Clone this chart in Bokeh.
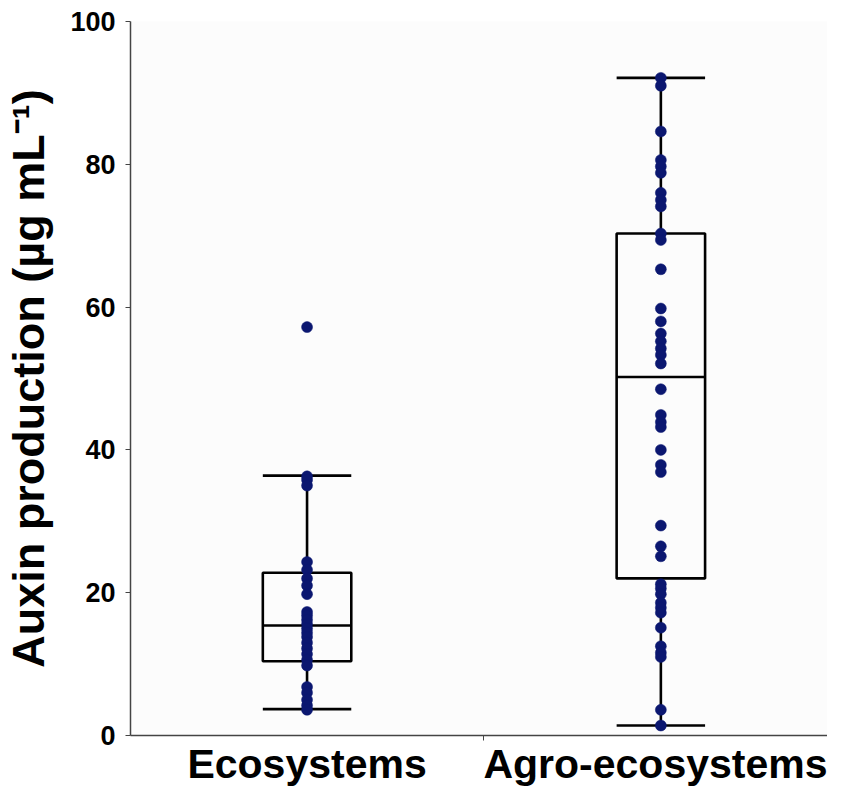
from bokeh.plotting import figure
from bokeh.models import Range1d, FixedTicker, ColumnDataSource
from bokeh.embed import file_html
from bokeh.resources import INLINE

categories = ["Ecosystems", "Agro-ecosystems"]

eco_values = [57.2, 36.3, 35.8, 35.0, 24.3, 23.2, 22.0, 21.0, 19.8, 17.3, 16.8,
              16.2, 15.6, 15.0, 14.4, 13.8, 13.0, 12.2, 11.4, 10.6, 9.8, 6.8,
              6.0, 5.0, 4.2, 3.6]
agro_values = [92.1, 91.0, 84.6, 80.6, 79.7, 78.8, 76.0, 75.0, 74.1, 70.3, 69.4,
               65.3, 59.8, 58.0, 56.3, 55.2, 54.2, 53.3, 52.1, 48.5, 44.9, 43.9,
               43.2, 40.0, 37.9, 36.9, 29.4, 26.5, 25.1, 21.2, 20.6, 19.8, 18.6,
               17.9, 17.2, 15.1, 12.5, 11.6, 11.0, 3.6, 1.4]

whisker_low = [3.7, 1.4]
q1 = [10.4, 22.0]
median = [15.4, 50.2]
q3 = [22.8, 70.3]
whisker_high = [36.4, 92.1]

y_ticks = [0, 20, 40, 60, 80, 100]

xpos = list(range(len(categories)))
half = 0.125

p = figure(width=827, height=789, output_backend="svg", toolbar_location=None,
           x_range=Range1d(-0.499, 1.471), y_range=Range1d(0, 100),
           min_border_left=120, min_border_right=0, min_border_top=21,
           min_border_bottom=10)
p.background_fill_color = "#fcfcfc"
p.border_fill_color = "white"
p.outline_line_color = None
p.grid.visible = False

box_src = ColumnDataSource(dict(x=xpos, left=[x - half for x in xpos],
                                right=[x + half for x in xpos],
                                lo=whisker_low, q1=q1, med=median, q3=q3, hi=whisker_high))

lw = 2.6
p.segment(x0="x", y0="hi", x1="x", y1="q3", source=box_src, line_color="black", line_width=lw)
p.segment(x0="x", y0="lo", x1="x", y1="q1", source=box_src, line_color="black", line_width=lw)
p.segment(x0="left", y0="hi", x1="right", y1="hi", source=box_src, line_color="black", line_width=lw)
p.segment(x0="left", y0="lo", x1="right", y1="lo", source=box_src, line_color="black", line_width=lw)
p.quad(left="left", right="right", bottom="q1", top="q3", source=box_src,
       fill_alpha=0, line_color="black", line_width=lw)
p.segment(x0="left", y0="med", x1="right", y1="med", source=box_src, line_color="black", line_width=lw)

px = [0] * len(eco_values) + [1] * len(agro_values)
py = eco_values + agro_values
p.scatter(px, py, size=11, fill_color="#0b1770", line_color="#0b1770", line_width=0.5)

p.yaxis.ticker = FixedTicker(ticks=y_ticks)
p.yaxis.axis_label = "Auxin production (µg mL⁻¹)"
p.yaxis.axis_label_text_font = "Liberation Sans"
p.yaxis.axis_label_text_font_style = "bold"
p.yaxis.axis_label_text_font_size = "45px"
p.yaxis.axis_label_text_color = "black"
p.yaxis.axis_label_standoff = 13
p.yaxis.major_label_text_font = "Liberation Sans"
p.yaxis.major_label_text_font_style = "bold"
p.yaxis.major_label_text_font_size = "27px"
p.yaxis.major_label_text_color = "black"
p.yaxis.major_label_standoff = 10
p.yaxis.major_tick_out = 5
p.yaxis.major_tick_in = 0
p.yaxis.minor_tick_line_color = None
p.yaxis.axis_line_color = "#444444"
p.yaxis.axis_line_width = 1.5
p.yaxis.major_tick_line_color = "#444444"

p.xaxis.ticker = FixedTicker(ticks=xpos, minor_ticks=[0.5])
p.xaxis.major_label_overrides = {i: c for i, c in enumerate(categories)}
p.xaxis.major_label_text_font = "Liberation Sans"
p.xaxis.major_label_text_font_style = "bold"
p.xaxis.major_label_text_font_size = "41px"
p.xaxis.major_label_text_color = "black"
p.xaxis.major_label_standoff = 0
p.xaxis.major_tick_out = 0
p.xaxis.major_tick_in = 0
p.xaxis.minor_tick_out = 5
p.xaxis.minor_tick_in = 0
p.xaxis.axis_line_color = "#444444"
p.xaxis.axis_line_width = 1.5
p.xaxis.minor_tick_line_color = "#444444"

open("out.html", "w").write(file_html(p, INLINE))
